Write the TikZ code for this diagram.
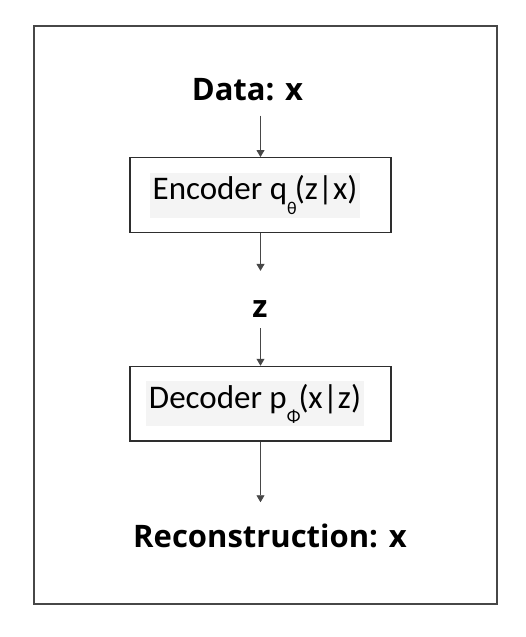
\documentclass[tikz,border=0pt]{standalone}
\usepackage{fontspec}
\setmainfont{Carlito}[Ligatures=NoCommon]
\newfontfamily\labelfont{Open Sans}
\usetikzlibrary{arrows.meta, positioning}
\definecolor{framegray}{HTML}{474747}
\definecolor{boxline}{HTML}{2E2E2E}
\definecolor{shotgray}{HTML}{F4F4F4}

\begin{document}
\begin{tikzpicture}[
    x=1pt, y=-1pt,
    every node/.style={inner sep=0pt},
    stage/.style={
        draw=boxline,
        line width=1.4pt,
        minimum width=261pt,
        minimum height=74.5pt
    },
    stagetext/.style={
        fill=shotgray,
        inner xsep=3pt,
        minimum height=45pt,
        font=\fontsize{33}{40}\selectfont
    },
    flowtext/.style={
        font=\labelfont\fontsize{31}{36}\selectfont\bfseries
    },
    flow/.style={
        -{Triangle[length=7pt, width=8pt]},
        line width=0.9pt,
        draw=framegray
    }
]
\useasboundingbox (0,0) rectangle (526,637);

% Outer frame
\draw[framegray, line width=2pt] (34,26) rectangle (497,604);

% Labels
\node[flowtext, anchor=base] (data) at (247.5,100) {Data: x};
\node[flowtext, anchor=base] (z) at (260,317.5) {z};
\node[flowtext, anchor=base] (rec) at (270,547.5) {Reconstruction: x};

% Encoder and decoder
\node[stage] (enc) at (260.5,195) {};
\node[stagetext, xshift=-5.5pt] (enctext) at (enc.center) {Encoder q\raisebox{-15pt}{\fontsize{18}{18}\selectfont θ}\kern-2pt(z|x)};
\node[stage] (dec) at (260.5,403.7) {};
\node[stagetext, xshift=-5.5pt] (dectext) at (dec.center) {Decoder p\raisebox{-14pt}{\fontsize{18}{18}\selectfont Φ}\kern-2pt(x|z)};

% Arrows
\draw[flow, shorten <=15pt] (data.south -| enc.north) -- (enc.north);
\draw[flow, shorten >=29.5pt] (enc.south) -- (enc.south |- z.north);
\draw[flow, shorten <=10.5pt] (z.south -| dec.north) -- (dec.north);
\draw[flow, shorten >=21.5pt] (dec.south) -- (dec.south |- rec.north);

\end{tikzpicture}
\end{document}
